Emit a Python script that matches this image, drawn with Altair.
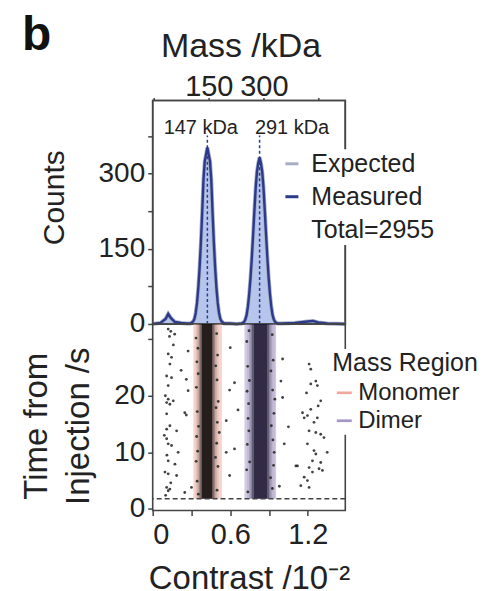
import altair as alt
import pandas as pd

# ---------------- data ----------------
# top panel: mass histogram outline (contrast /10^-2 vs counts)
hist_contrast = [0.0, 0.06, 0.10, 0.12, 0.14, 0.17, 0.22, 0.26, 0.293,
                 0.313, 0.323, 0.333, 0.343, 0.353, 0.363, 0.373, 0.383, 0.393, 0.403, 0.413,
                 0.423,
                 0.433, 0.443, 0.453, 0.463, 0.473, 0.483, 0.493, 0.503, 0.513, 0.523, 0.533, 0.553,
                 0.60, 0.65, 0.687,
                 0.707, 0.717, 0.727, 0.737, 0.747, 0.757, 0.767, 0.777, 0.787, 0.797, 0.807, 0.817,
                 0.827,
                 0.837, 0.847, 0.857, 0.867, 0.877, 0.887, 0.897, 0.907, 0.917, 0.927, 0.937, 0.947,
                 0.967, 1.00, 1.10, 1.20, 1.24, 1.28, 1.35, 1.49]
hist_measured = [0, 2, 10, 20, 12, 4, 2, 1, 1,
                 5, 10, 22, 42, 72, 112, 162, 222, 288, 325, 338,
                 352,
                 338, 325, 288, 222, 162, 112, 72, 42, 22, 10, 5, 1,
                 1, 0, 1,
                 4, 9, 18, 35, 60, 92, 132, 178, 226, 272, 304, 321,
                 332,
                 321, 304, 272, 226, 178, 132, 92, 60, 35, 18, 9, 4,
                 1, 1, 2, 5, 6, 3, 1, 0]
hist_expected = hist_measured
series_names = ["Expected", "Measured", "Total=2955"]

peak_contrast = [0.423, 0.827]
peak_line_top = [376, 376]
peak_labels = ["147 kDa", "291 kDa"]
peak_label_contrast = [0.372, 1.078]
peak_label_counts = [380, 380]

# top (mass) axis: tick masses, where they fall on the contrast axis, and which are labelled
mass_ticks = [0, 150, 300, 450]
mass_tick_contrast = [0.005, 0.434, 0.86, 1.284]
mass_tick_text = ["", "150", "300", ""]
count_ticks = [0, 75, 150, 225, 300, 375]

contrast_range = [0, 1.49]
counts_range = [0, 446]

# bottom panel
region_names = ["Monomer", "Dimer"]
region_lo = [0.315, 0.71]
region_hi = [0.535, 0.955]
injection_time = 1.8
time_top = 32.7

mono_lo = [0.332, 0.345, 0.357, 0.368, 0.378, 0.462, 0.472, 0.483, 0.495]
mono_hi = [0.345, 0.357, 0.368, 0.378, 0.462, 0.472, 0.483, 0.495, 0.510]
mono_alpha = [0.08, 0.2, 0.38, 0.62, 0.9, 0.62, 0.38, 0.2, 0.08]
dimer_lo = [0.730, 0.745, 0.757, 0.768, 0.780, 0.888, 0.900, 0.912, 0.925]
dimer_hi = [0.745, 0.757, 0.768, 0.780, 0.888, 0.900, 0.912, 0.925, 0.945]
dimer_alpha = [0.08, 0.2, 0.38, 0.6, 0.86, 0.6, 0.38, 0.2, 0.08]

scatter_contrast = [
    # left sparse cluster
    0.12, 0.14, 0.17, 0.13, 0.12, 0.146, 0.133, 0.274, 0.108, 0.146, 0.26, 0.12, 0.274,
    0.098, 0.12, 0.108, 0.133, 0.159, 0.248, 0.108, 0.133, 0.108, 0.185, 0.26, 0.108,
    0.12, 0.146, 0.197, 0.12, 0.172, 0.095, 0.12, 0.185, 0.108, 0.133, 0.12, 0.30, 0.248,
    0.16, 0.11, 0.14, 0.10, 0.22, 0.09,
    # between bands
    0.633, 0.569, 0.633, 0.595, 0.569, 0.595, 0.60, 0.66,
    # right of dimer
    1.005, 0.992, 1.005, 1.018, 1.108, 0.98, 1.05,
    # right sparse cluster
    1.21, 1.223, 1.262, 1.223, 1.274, 1.30, 1.223, 1.159, 1.172, 1.197, 1.274, 1.248,
    1.21, 1.262, 1.30, 1.325, 1.35, 1.197, 1.248, 1.262, 1.236, 1.30, 1.21, 1.287,
    1.236, 1.313, 1.172, 1.197, 1.146, 1.21, 1.12, 1.28, 1.19,
    # monomer band edges
    0.335, 0.342, 0.338, 0.345, 0.340, 0.336, 0.344, 0.350, 0.352, 0.355, 0.348, 0.353,
    0.495, 0.502, 0.498, 0.507, 0.500, 0.495, 0.505, 0.498, 0.488, 0.490, 0.486, 0.515,
    # dimer band edges
    0.728, 0.735, 0.730, 0.738, 0.732, 0.727, 0.736, 0.745, 0.748, 0.744, 0.750, 0.742,
    0.925, 0.932, 0.928, 0.938, 0.930, 0.935, 0.926, 0.915, 0.918, 0.912, 0.945, 0.940,
]
scatter_time = [
    31.8, 31.4, 30.9, 30.5, 27.4, 26.8, 25.6, 27.9, 23.5, 23.2, 22.9, 21.8, 20.9,
    20.0, 19.4, 18.8, 18.5, 19.1, 17.0, 16.8, 14.7, 14.1, 13.8, 16.6, 12.4,
    11.5, 11.2, 10.0, 8.5, 7.9, 6.5, 6.2, 5.9, 3.8, 3.5, 3.2, 3.8, 2.9,
    29.0, 9.5, 4.6, 2.4, 24.5, 13.0,
    22.3, 10.0, 10.6, 21.0, 15.6, 5.9, 28.5, 17.5,
    26.5, 22.6, 19.7, 11.5, 7.6, 4.0, 14.5,
    25.6, 24.7, 22.6, 22.1, 21.8, 19.1, 17.6, 17.0, 16.1, 16.5, 16.1, 15.3,
    13.8, 13.5, 13.2, 12.6, 10.0, 11.5, 10.3, 9.7, 8.5, 8.2, 7.3, 7.1,
    6.5, 6.8, 5.6, 5.0, 4.1, 3.8, 7.6, 18.2, 20.5,
    30.2, 26.0, 21.5, 17.2, 12.8, 8.4, 4.9, 28.4, 23.9, 14.6, 10.2, 2.6,
    31.0, 27.2, 22.8, 19.0, 15.3, 11.6, 7.5, 3.3, 25.3, 17.9, 9.1, 13.5,
    29.6, 25.2, 20.8, 16.0, 11.4, 6.9, 3.0, 31.5, 22.7, 13.8, 8.3, 18.6,
    30.8, 26.3, 21.0, 16.9, 12.2, 7.7, 3.6, 24.4, 14.7, 5.5, 19.4, 10.0,
]
contrast_ticks = [0, 0.3, 0.6, 0.9, 1.2]
time_ticks = [0, 5, 10, 15, 20, 25, 30]

# ---------------- tables ----------------
hist_df = pd.concat([
    pd.DataFrame({"contrast": hist_contrast, "counts": hist_expected, "series": series_names[0]}),
    pd.DataFrame({"contrast": hist_contrast, "counts": hist_measured, "series": series_names[1]}),
])
fill_df = pd.DataFrame({"contrast": hist_contrast, "counts": hist_measured})
rule_df = pd.DataFrame({"contrast": peak_contrast, "y0": [0, 0], "y1": peak_line_top})
label_df = pd.DataFrame({"contrast": peak_label_contrast, "label": peak_labels, "ly": peak_label_counts})
mass_df = pd.DataFrame({"contrast": mass_tick_contrast, "mass": mass_ticks})
frame_df = pd.DataFrame({"x0": [contrast_range[0]], "x1": [contrast_range[1]],
                         "y0": [counts_range[0]], "y1": [counts_range[1]]})

mass_label_expr = " : ".join(
    f"datum.value == {c} ? '{t}'" for c, t in zip(mass_tick_contrast, mass_tick_text) if t
) + " : ''"

region_df = pd.DataFrame({"region": region_names, "lo": region_lo, "hi": region_hi,
                          "t0": [injection_time] * 2, "t1": [time_top] * 2})
dens_df = pd.concat([
    pd.DataFrame({"lo": mono_lo, "hi": mono_hi, "alpha": mono_alpha, "c": "#0d0a0a"}),
    pd.DataFrame({"lo": dimer_lo, "hi": dimer_hi, "alpha": dimer_alpha, "c": "#16102c"}),
])
dens_df["t0"] = injection_time
dens_df["t1"] = time_top
scat_df = pd.DataFrame({"contrast": scatter_contrast, "time": scatter_time})
inj_df = pd.DataFrame({"time": [injection_time]})

FONT = "Liberation Sans"
TXT = "#222222"
FRAME = "#444444"
W = 193
H_TOP = 224
H_BOT = 187

xs = alt.Scale(domain=contrast_range, nice=False, zero=False)
ys_top = alt.Scale(domain=counts_range, nice=False)
ys_bot = alt.Scale(domain=[-0.3, time_top], nice=False)

top_y_axis = alt.Axis(values=count_ticks, labelExpr="datum.value % 150 == 0 ? datum.label : ''",
                      title="Counts", titleFontSize=30, titleFontWeight="normal",
                      titleX=-89.7, titleY=97, titleBaseline="alphabetic",
                      labelFontSize=28, tickSize=5, labelPadding=3, domain=False, grid=False)

area = alt.Chart(fill_df).mark_area(color="#b6c5ec", opacity=1, interpolate="linear").encode(
    x=alt.X("contrast:Q", scale=xs, axis=None),
    y=alt.Y("counts:Q", scale=ys_top, axis=top_y_axis),
)
lines = alt.Chart(hist_df).mark_line(interpolate="linear").encode(
    x=alt.X("contrast:Q", scale=xs, axis=None),
    y=alt.Y("counts:Q", scale=ys_top),
    stroke=alt.Stroke("series:N",
                      scale=alt.Scale(domain=series_names, range=["#a7aec4", "#2c3a8c", "transparent"]),
                      legend=alt.Legend(title=None, orient="none", legendX=125, legendY=49,
                                        symbolType="stroke", symbolStrokeWidth=3, symbolSize=169,
                                        labelFontSize=25, labelColor=TXT, labelFont=FONT,
                                        rowPadding=7, labelOffset=7, padding=2, fillColor="white")),
    strokeWidth=alt.StrokeWidth("series:N", scale=alt.Scale(domain=series_names[:2], range=[4, 2.4]),
                                legend=None),
    order=alt.Order("series:N"),
)
rules = alt.Chart(rule_df).mark_rule(color="#2c3a8c", strokeWidth=1.5, strokeDash=[3, 2.5]).encode(
    x=alt.X("contrast:Q", scale=xs, axis=None),
    y=alt.Y("y0:Q", scale=ys_top),
    y2="y1:Q",
)
labels = alt.Chart(label_df).mark_text(fontSize=20, baseline="alphabetic", color=TXT, font=FONT).encode(
    x=alt.X("contrast:Q", scale=xs, axis=None),
    y=alt.Y("ly:Q", scale=ys_top),
    text="label:N",
)
frame = alt.Chart(frame_df).mark_rect(filled=False, stroke=FRAME, strokeWidth=1.6).encode(
    x=alt.X("x0:Q", scale=xs, axis=None), x2="x1:Q",
    y=alt.Y("y0:Q", scale=ys_top), y2="y1:Q",
)
mass_axis = alt.Chart(mass_df).mark_point(opacity=0).encode(
    x=alt.X("contrast:Q", scale=xs,
            axis=alt.Axis(orient="top", values=mass_tick_contrast, labelExpr=mass_label_expr,
                          title="Mass /kDa", titleFontSize=34, titleFontWeight="normal",
                          titleX=88, titlePadding=9, labelBaseline="alphabetic",
                          labelFontSize=29, tickSize=3, labelPadding=2, domain=False, grid=False)),
    y=alt.Y("mass:Q", scale=ys_top),
)

top = alt.layer(area, lines, rules, labels, frame, mass_axis).resolve_axis(x="independent").properties(
    width=W, height=H_TOP)

bot_x_axis = alt.Axis(values=contrast_ticks, format=".1~f",
                      labelExpr="abs(datum.value / 0.6 - round(datum.value / 0.6)) < 0.01 ? datum.label : ''",
                      title="Contrast /10⁻²", titleFontSize=33, titleFontWeight="normal", titlePadding=13,
                      labelFontSize=29, tickSize=5, labelPadding=5, domain=False, grid=False)
bot_y_axis = alt.Axis(values=time_ticks, labelExpr="datum.value % 10 == 0 && datum.value < 30 ? datum.label : ''",
                      title=["Time from", "Injection /s"], titleFontSize=33, titleFontWeight="normal",
                      titleLineHeight=41.5, titleX=-106.2, titleY=102, titleBaseline="alphabetic",
                      labelFontSize=28, tickSize=5, labelPadding=3, domain=False, grid=False)

bands = alt.Chart(region_df).mark_rect(opacity=0.5).encode(
    x=alt.X("lo:Q", scale=xs, axis=bot_x_axis),
    x2="hi:Q",
    y=alt.Y("t0:Q", scale=ys_bot, axis=bot_y_axis),
    y2="t1:Q",
    color=alt.Color("region:N", scale=alt.Scale(domain=region_names, range=["#f2a89c", "#a596c9"]),
                    legend=alt.Legend(title="Mass Region", orient="none", legendX=178, legendY=25,
                                      titleFontSize=25, titleFontWeight="normal", titleColor=TXT,
                                      titleFont=FONT, titlePadding=5,
                                      labelFontSize=24, labelColor=TXT, labelFont=FONT,
                                      symbolType="M-1,-0.18H1V0.18H-1Z", symbolSize=225, symbolOpacity=1,
                                      symbolStrokeWidth=0, rowPadding=4, labelOffset=2, padding=2,
                                      fillColor="white")),
)
dens = alt.Chart(dens_df).mark_rect().encode(
    x=alt.X("lo:Q", scale=xs), x2="hi:Q",
    y=alt.Y("t0:Q", scale=ys_bot), y2="t1:Q",
    fill=alt.Fill("c:N", scale=None),
    opacity=alt.Opacity("alpha:Q", scale=None),
)
pts = alt.Chart(scat_df).mark_circle(size=8, color="#222222", opacity=0.85).encode(
    x=alt.X("contrast:Q", scale=xs), y=alt.Y("time:Q", scale=ys_bot))
inj = alt.Chart(inj_df).mark_rule(color=FRAME, strokeWidth=1.5, strokeDash=[5, 3]).encode(
    y=alt.Y("time:Q", scale=ys_bot))

bottom = alt.layer(bands, dens, pts, inj).properties(width=W, height=H_BOT)

chart = alt.vconcat(top, bottom, spacing=0, bounds="flush").resolve_scale(
    color="independent", stroke="independent").properties(
    title=alt.TitleParams("b", anchor="start", fontSize=48, fontWeight="bold", color="#111111",
                          font=FONT, offset=-31, dx=2, frame="bounds"),
    padding={"left": 12, "top": 3, "right": 0, "bottom": 0},
).configure(font=FONT).configure_view(stroke=FRAME, strokeWidth=1.6).configure_axis(
    labelColor=TXT, titleColor=TXT, tickColor=FRAME, tickWidth=1.5, labelFont=FONT, titleFont=FONT)

chart.save("out.html", embed_options={"renderer": "svg", "actions": False})
